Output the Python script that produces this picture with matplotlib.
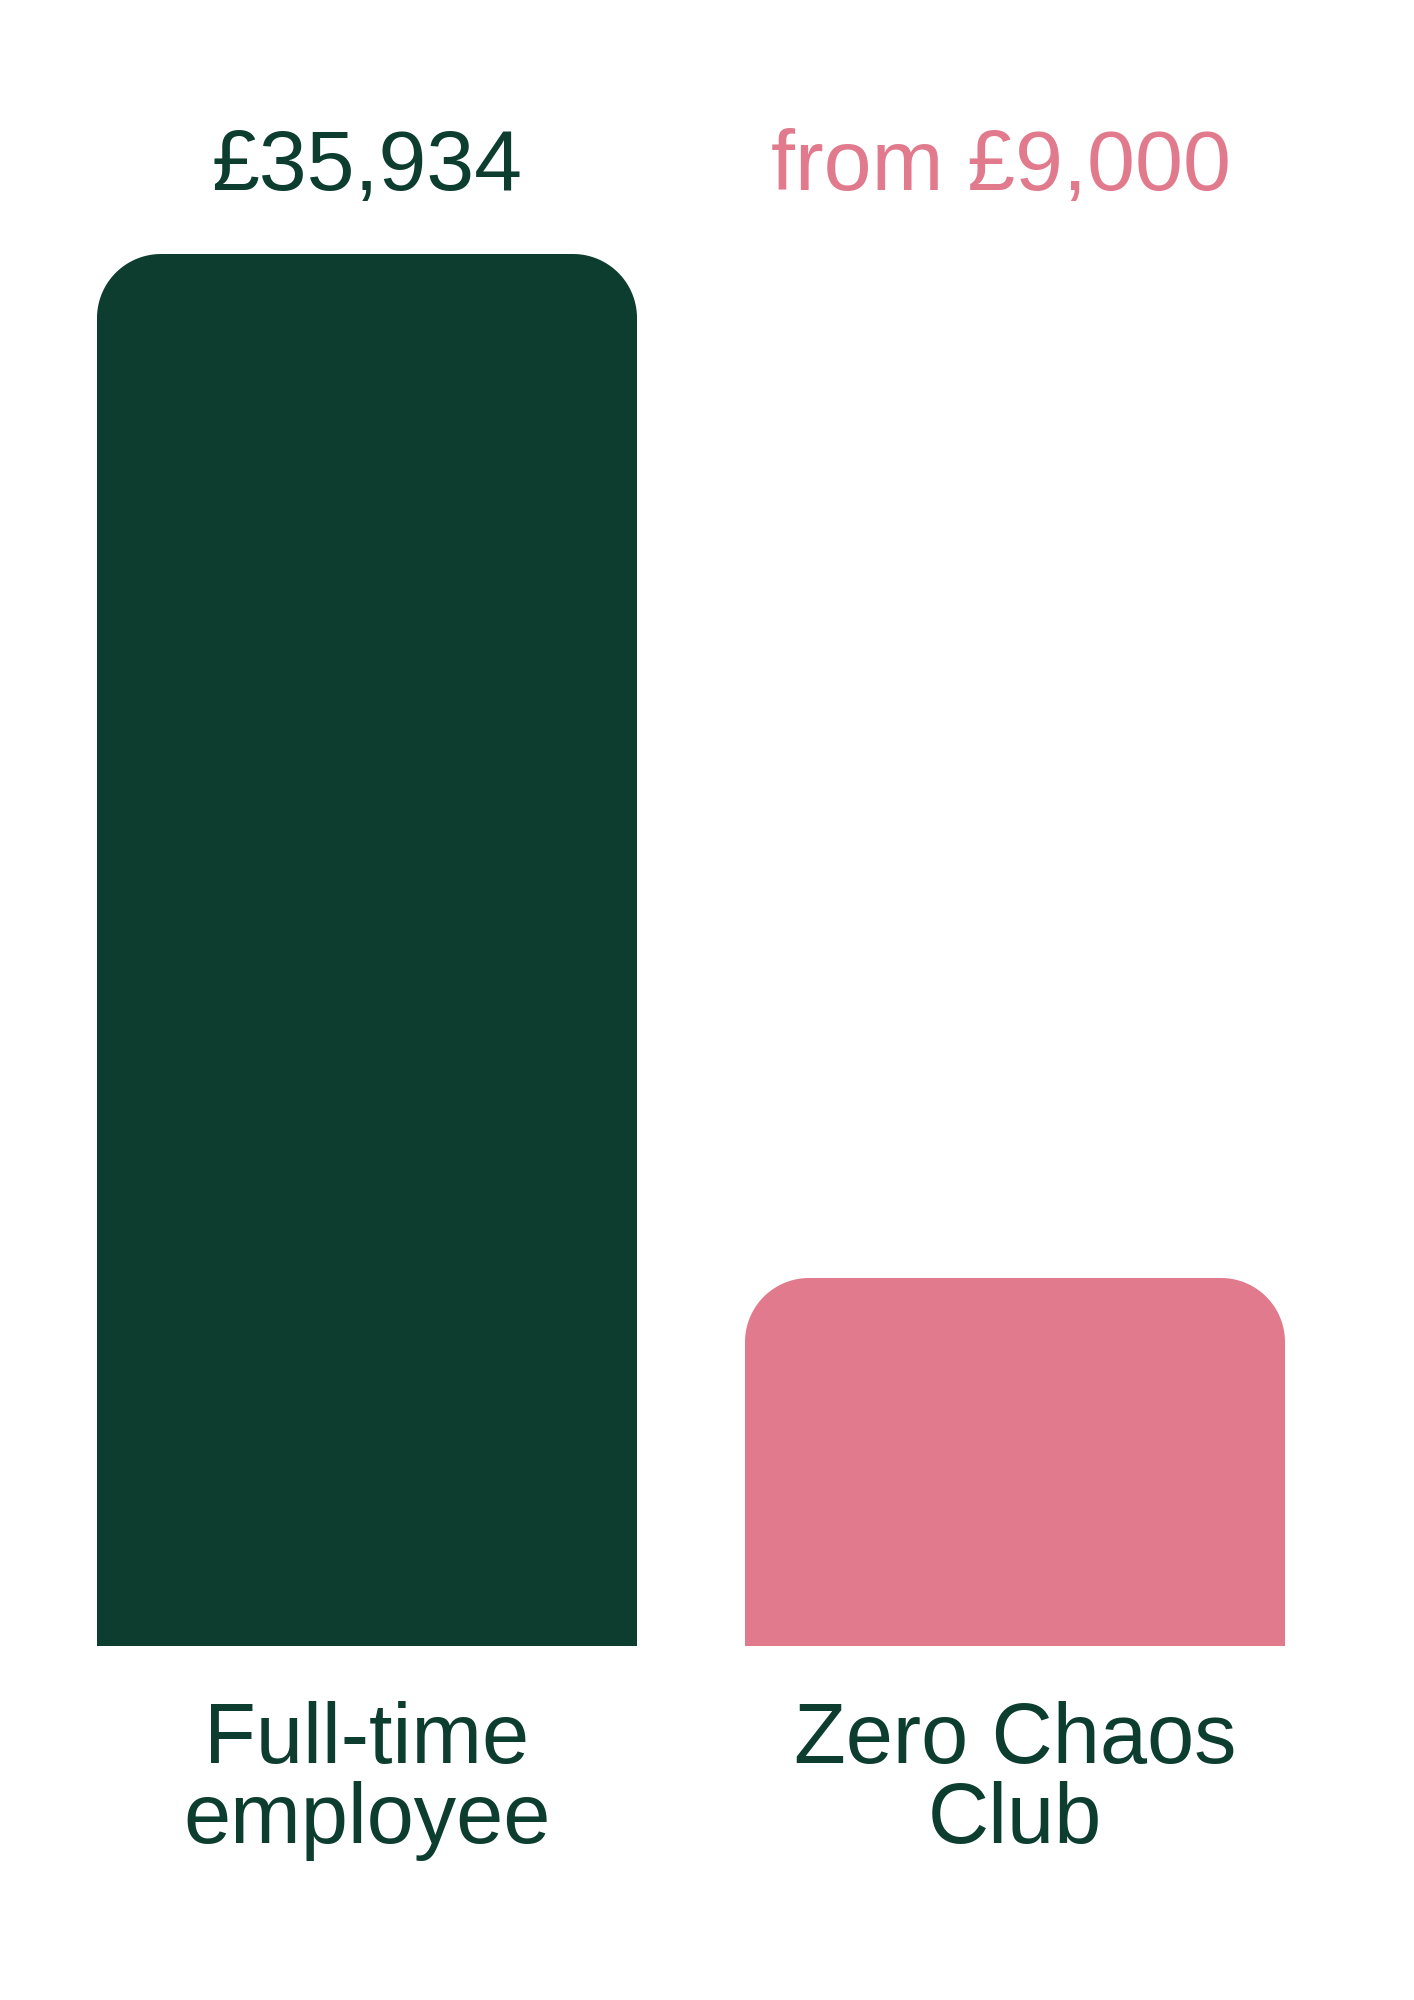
import numpy as np
import matplotlib.pyplot as plt
from matplotlib.patches import Polygon
import matplotlib.transforms as mtransforms

plt.rcParams['font.family'] = ['Liberation Sans', 'DejaVu Sans']

# Données
categories = ['Full-time\nemployee', 'Zero Chaos\nClub']
valeurs = [35934, 9500]
etiquettes = ['£35,934', 'from £9,000']
couleurs = ['#0c3d2e', '#e07a8c']
couleur_texte = '#0c3d2e'

W, H = 1414, 2000
fig = plt.figure(figsize=(W / 100, H / 100), dpi=100)
ax = fig.add_axes([0, 0, 1, 1])

# Echelles: 648 px entre les barres, 1392 px pour la plus grande
px_x = 1 / 648
px_y = valeurs[0] / 1392
ax.set_xlim(-367 * px_x, (W - 367) * px_x)
ax.set_ylim(-354 * px_y, (H - 354) * px_y)
ax.axis('off')

x = range(len(categories))
barres = ax.bar(x, valeurs, width=540 * px_x, color=couleurs)


# Barre avec coins arrondis en haut (rayon en pixels)
def barre_arrondie(x0, w, h, rayon=64):
    rx, ry = rayon * px_x, rayon * px_y
    t = np.linspace(0, np.pi / 2, 30)
    gauche = np.column_stack([x0 + rx - rx * np.cos(t), h - ry + ry * np.sin(t)])
    droite = np.column_stack([x0 + w - rx + rx * np.sin(t), h - ry + ry * np.cos(t)])
    pts = np.vstack([[x0, 0], gauche, droite, [x0 + w, 0]])
    return pts


for b, c in zip(barres, couleurs):
    b.set_visible(False)
    pts = barre_arrondie(b.get_x(), b.get_width(), b.get_height())
    ax.add_patch(Polygon(pts, closed=True, facecolor=c, edgecolor='none'))

trans = mtransforms.blended_transform_factory(ax.transData, ax.transAxes)
decalage = [0, -14 * px_x]
for i, (lab, c) in enumerate(zip(etiquettes, couleurs)):
    ax.text(i + decalage[i], 1 - 190 / H, lab, color=c, fontsize=62,
            ha='center', va='baseline', transform=trans)

for i, cat in enumerate(categories):
    ax.text(i, 1 - 1701 / H, cat, color=couleur_texte, fontsize=61,
            ha='center', va='top', linespacing=1.0, transform=trans)

fig.savefig('out.png', dpi=100, facecolor='white')
